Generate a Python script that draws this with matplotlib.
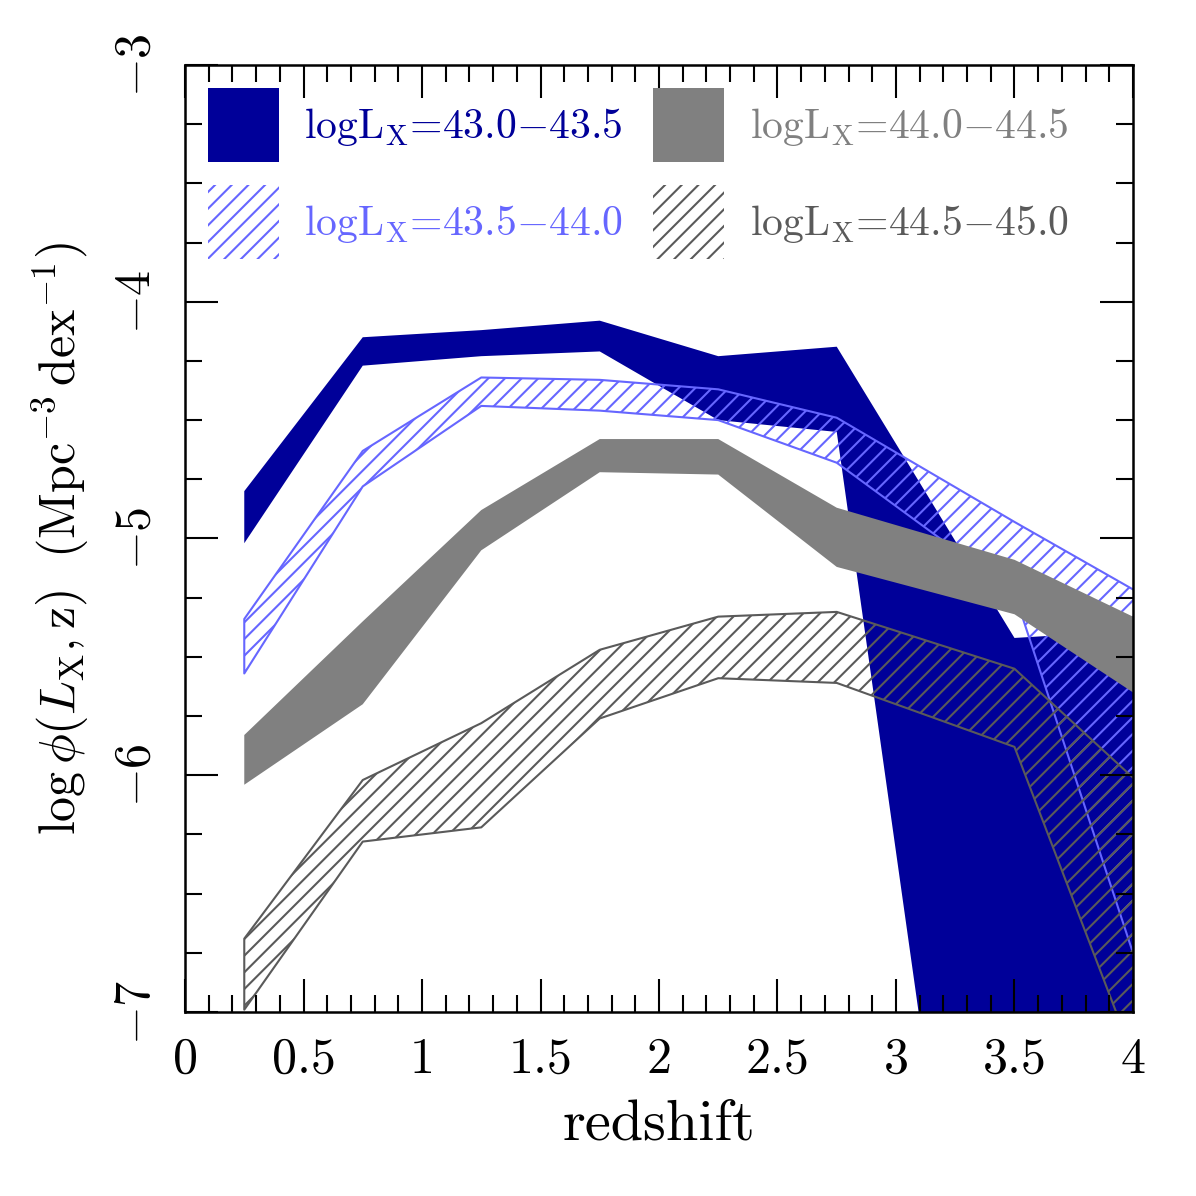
import numpy as np
import matplotlib
matplotlib.use("Agg")
import matplotlib.pyplot as plt
from matplotlib.patches import Patch

plt.rcParams['font.family'] = 'serif'
plt.rcParams['font.serif'] = ['cmr10', 'DejaVu Serif']
plt.rcParams['mathtext.fontset'] = 'cm'
plt.rcParams['axes.formatter.use_mathtext'] = True
plt.rcParams['hatch.linewidth'] = 1.5

# redshift bin centres
z = [0.25, 0.75, 1.25, 1.75, 2.25, 2.75, 3.5, 4.5]

# log phi bands (upper / lower) per luminosity bin
hi_430 = [-4.80, -4.15, -4.12, -4.08, -4.23, -4.19, -5.42, -5.36]
lo_430 = [-5.02, -4.27, -4.23, -4.21, -4.50, -4.55, -9.87, -12.0]
hi_435 = [-5.34, -4.63, -4.32, -4.33, -4.37, -4.49, -4.93, -5.50]
lo_435 = [-5.57, -4.78, -4.44, -4.46, -4.50, -4.68, -5.23, -8.27]
hi_440 = [-5.83, -5.35, -4.88, -4.58, -4.58, -4.87, -5.09, -5.57]
lo_440 = [-6.04, -5.70, -5.05, -4.72, -4.73, -5.12, -5.32, -5.98]
hi_445 = [-6.69, -6.02, -5.78, -5.47, -5.33, -5.31, -5.55, -6.47]
lo_445 = [-6.99, -6.28, -6.22, -5.76, -5.59, -5.61, -5.88, -8.49]

labels = [r'logL$_{\rm X}$=43.0$-$43.5', r'logL$_{\rm X}$=43.5$-$44.0',
          r'logL$_{\rm X}$=44.0$-$44.5', r'logL$_{\rm X}$=44.5$-$45.0']

xticks = [0, 0.5, 1, 1.5, 2, 2.5, 3, 3.5, 4]
xtick_labels = ['0', '0.5', '1', '1.5', '2', '2.5', '3', '3.5', '4']
yticks = [-7, -6, -5, -4, -3]
ytick_labels = [r'$-7$', r'$-6$', r'$-5$', r'$-4$', r'$-3$']

c_navy = '#000099'
c_light = '#6666ff'
c_gray = '#808080'
c_dark = '#5a5a5a'

fig = plt.figure(figsize=(11.96, 11.96), dpi=100)
ax = fig.add_axes([0.1547, 0.1538, 0.7926, 0.7919])

ax.fill_between(z, lo_430, hi_430, facecolor=c_navy, edgecolor='none')
ax.fill_between(z, lo_435, hi_435, facecolor='none', edgecolor=c_light, hatch='//', linewidth=1.5)
ax.fill_between(z, lo_440, hi_440, facecolor=c_gray, edgecolor='none')
ax.fill_between(z, lo_445, hi_445, facecolor='none', edgecolor=c_dark, hatch='//', linewidth=1.5)

ax.set_xlim(0, 4)
ax.set_ylim(-7, -3)

ax.set_xticks(xticks, labels=xtick_labels)
ax.set_yticks(yticks, labels=ytick_labels)
ax.set_xticks(np.arange(0, 4.01, 0.1), minor=True)
ax.set_yticks(np.arange(-7, -2.99, 0.25), minor=True)
ax.tick_params(which='both', direction='in', top=True, right=True, width=1.5)
ax.tick_params(which='major', length=24, labelsize=36, pad=18)
ax.tick_params(which='minor', length=12)
plt.setp(ax.get_yticklabels(), rotation=90, va='center')
for s in ax.spines.values():
    s.set_linewidth(1.8)

ax.set_xlabel('redshift', fontsize=42, labelpad=12)
ax.set_ylabel(r'$\log\phi(L_{\rm X},{\rm z})\ \ ({\rm Mpc^{-3}\,dex^{-1}})$', fontsize=36, labelpad=16)

handles = [Patch(facecolor=c_navy, edgecolor='none'),
           Patch(facecolor='none', edgecolor=c_light, hatch='//', linewidth=0),
           Patch(facecolor=c_gray, edgecolor='none'),
           Patch(facecolor='none', edgecolor=c_dark, hatch='//', linewidth=0)]
leg = ax.legend(handles, labels, ncol=2, loc='upper left', frameon=False,
                bbox_to_anchor=(0.024, 0.976), borderaxespad=0, borderpad=0,
                fontsize=30, handlelength=1.7, handleheight=2.37,
                handletextpad=0.62, columnspacing=0.72, labelspacing=0.55)
for t, col in zip(leg.get_texts(), [c_navy, c_light, c_gray, c_dark]):
    t.set_color(col)

fig.savefig('out.png', dpi=100)
